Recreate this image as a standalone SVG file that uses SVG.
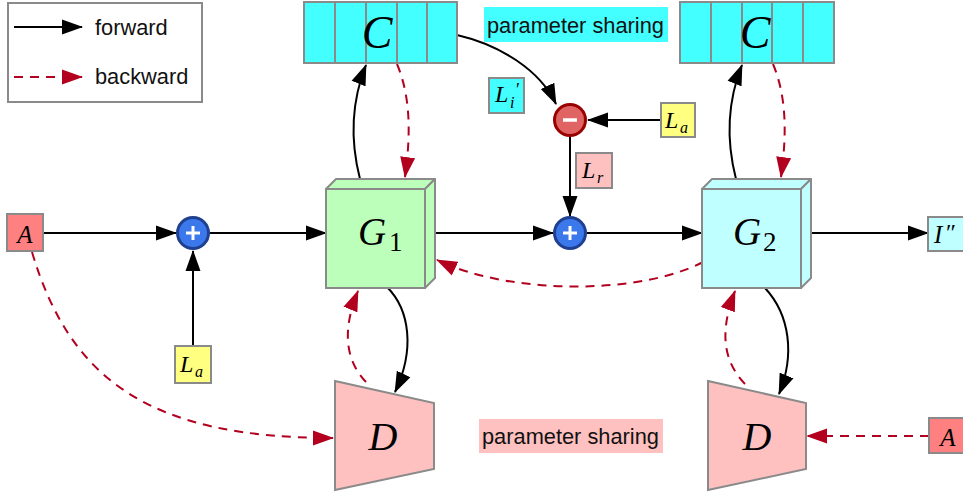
<svg xmlns="http://www.w3.org/2000/svg" width="963" height="495" viewBox="0 0 963 495">
<defs>
<marker id="ab" markerUnits="userSpaceOnUse" markerWidth="21" markerHeight="16" viewBox="0 0 21 16" refX="20" refY="8" orient="auto"><path d="M0,0.5 L21,8 L0,15.5 z" fill="#000"/></marker>
<marker id="ar" markerUnits="userSpaceOnUse" markerWidth="21" markerHeight="16" viewBox="0 0 21 16" refX="20" refY="8" orient="auto"><path d="M0,0.5 L21,8 L0,15.5 z" fill="#b3001e"/></marker>
</defs>
<style>
.box{stroke:#8a8a8a;stroke-width:2}
.fw{fill:none;stroke:#000;stroke-width:2;marker-end:url(#ab)}
.bw{fill:none;stroke:#b3001e;stroke-width:2;stroke-dasharray:9,7;marker-end:url(#ar)}
.sans{font-family:"Liberation Sans",Arial,sans-serif;font-size:21.8px;fill:#111}
.m{font-family:"Liberation Serif","Times New Roman",serif;font-style:italic;fill:#000}
.n{font-family:"Liberation Serif","Times New Roman",serif;fill:#000}
.cy{fill:#44ffff}
.pk{fill:#ffc0c0}
</style>
<rect width="963" height="495" fill="#fff"/>

<g id="legend">
<rect x="8" y="3" width="194" height="99" fill="#fff" class="box"/>
<line x1="14" y1="27" x2="82" y2="27" class="fw"/>
<line x1="14" y1="77" x2="82" y2="77" class="bw"/>
<text x="95" y="35" class="sans">forward</text>
<text x="95" y="84" class="sans">backward</text>
</g>

<g id="connectors">
<line x1="43" y1="233" x2="176" y2="233" class="fw"/>
<line x1="193" y1="346" x2="193" y2="251" class="fw"/>
<line x1="210" y1="233" x2="326" y2="233" class="fw"/>
<line x1="435" y1="233" x2="553" y2="233" class="fw"/>
<line x1="587" y1="233" x2="702" y2="233" class="fw"/>
<line x1="811" y1="233" x2="928" y2="233" class="fw"/>
<line x1="661" y1="120" x2="588" y2="120" class="fw"/>
<line x1="570" y1="137" x2="570" y2="216" class="fw"/>
<path d="M457,35 C500,45 540,70 556,104" class="fw"/>
<path d="M360,179 C350,140 352,100 366,65" class="fw"/>
<path d="M397,64 C412,100 410,140 405,177" class="bw"/>
<path d="M387,287 C410,310 415,350 395,392" class="fw"/>
<path d="M366,382 C345,360 342,330 358,291" class="bw"/>
<path d="M736,179 C726,140 728,100 742,65" class="fw"/>
<path d="M773,64 C788,100 786,140 781,177" class="bw"/>
<path d="M765,288 C790,315 795,355 779,394" class="fw"/>
<path d="M745,384 C722,360 720,330 735,291" class="bw"/>
<path d="M703,262 C640,295 510,295 437,260" class="bw"/>
<path d="M32,252 C70,380 150,438 333,438" class="bw"/>
<line x1="929" y1="436" x2="807" y2="436" class="bw"/>
</g>

<g id="C1">
<rect x="304" y="2" width="153" height="61" class="box cy"/>
<path d="M335,2 V63 M366,2 V63 M397,2 V63 M427,2 V63" stroke="#8a8a8a" stroke-width="2"/>
<text x="377" y="48" class="m" font-size="46" text-anchor="middle">C</text>
</g>
<g id="C2">
<rect x="680" y="2" width="154" height="61" class="box cy"/>
<path d="M711,2 V63 M742,2 V63 M772,2 V63 M803,2 V63" stroke="#8a8a8a" stroke-width="2"/>
<text x="755" y="48" class="m" font-size="46" text-anchor="middle">C</text>
</g>

<g id="ps1">
<rect x="484" y="7" width="184" height="35" class="cy"/>
<text x="487" y="33" class="sans">parameter sharing</text>
</g>
<g id="ps2">
<rect x="479" y="419" width="184" height="34" class="pk"/>
<text x="482" y="444" class="sans">parameter sharing</text>
</g>

<g id="Li">
<rect x="489" y="78" width="35" height="35" class="box cy"/>
<text class="m" font-size="24"><tspan x="495" y="102">L</tspan><tspan x="510" y="108" font-size="16">i</tspan><tspan x="516" y="96" font-style="normal" font-size="18">′</tspan></text>
</g>

<g id="minus">
<circle cx="570" cy="120" r="15.5" fill="#e06464" stroke="#990000" stroke-width="3"/>
<line x1="563" y1="120" x2="577" y2="120" stroke="#fff" stroke-width="3.5"/>
</g>

<g id="La1">
<rect x="661" y="103" width="34" height="34" class="box" fill="#ffff80"/>
<text class="m" font-size="24"><tspan x="665" y="128">L</tspan><tspan x="680" y="133" font-size="16">a</tspan></text>
</g>

<g id="Lr">
<rect x="576" y="153" width="36" height="35" class="box pk"/>
<text class="m" font-size="24"><tspan x="582" y="178">L</tspan><tspan x="597" y="183" font-size="16">r</tspan></text>
</g>

<g id="A1">
<rect x="7" y="214" width="36" height="37" class="box" fill="#ff8080"/>
<text x="25" y="243" class="m" font-size="25" text-anchor="middle">A</text>
</g>

<g id="plus1">
<circle cx="193" cy="233" r="15.5" fill="#3a78ec" stroke="#1f3f8f" stroke-width="3"/>
<path d="M186,233 H200 M193,226 V240" stroke="#fff" stroke-width="3"/>
</g>

<g id="La2">
<rect x="175" y="346" width="36" height="37" class="box" fill="#ffff80"/>
<text class="m" font-size="24"><tspan x="180" y="372">L</tspan><tspan x="195" y="377" font-size="16">a</tspan></text>
</g>

<g id="G1">
<polygon points="326,189 336,179 435,179 425,189" fill="#bbffbb" class="box" stroke-linejoin="round"/>
<polygon points="425,189 435,179 435,278 425,288" fill="#bbffbb" class="box" stroke-linejoin="round"/>
<rect x="326" y="189" width="99" height="99" fill="#bbffbb" class="box"/>
<text class="m" font-size="39"><tspan x="358" y="245">G</tspan><tspan x="389" y="251" font-style="normal" font-size="27">1</tspan></text>
</g>

<g id="plus2">
<circle cx="570" cy="233" r="15.5" fill="#3a78ec" stroke="#1f3f8f" stroke-width="3"/>
<path d="M563,233 H577 M570,226 V240" stroke="#fff" stroke-width="3"/>
</g>

<g id="G2">
<polygon points="702,189 712,179 811,179 801,189" fill="#c0ffff" class="box" stroke-linejoin="round"/>
<polygon points="801,189 811,179 811,278 801,288" fill="#c0ffff" class="box" stroke-linejoin="round"/>
<rect x="702" y="189" width="99" height="99" fill="#c0ffff" class="box"/>
<text class="m" font-size="39"><tspan x="733" y="245">G</tspan><tspan x="763" y="251" font-style="normal" font-size="27">2</tspan></text>
</g>

<g id="Ipp">
<rect x="928" y="217" width="40" height="34" class="box" fill="#c0ffff"/>
<text class="m" font-size="25"><tspan x="934" y="243">I</tspan><tspan x="946" y="240" font-style="normal" font-size="24">″</tspan></text>
</g>

<g id="D1">
<polygon points="335,381 434,403 434,469 335,490" class="box pk"/>
<text x="383" y="450" class="m" font-size="40" text-anchor="middle">D</text>
</g>

<g id="D2">
<polygon points="708,381 806,403 806,469 708,490" class="box pk"/>
<text x="757" y="450" class="m" font-size="40" text-anchor="middle">D</text>
</g>

<g id="A2">
<rect x="929" y="418" width="40" height="35" class="box" fill="#ff8080"/>
<text x="948" y="446" class="m" font-size="25" text-anchor="middle">A</text>
</g>
</svg>
